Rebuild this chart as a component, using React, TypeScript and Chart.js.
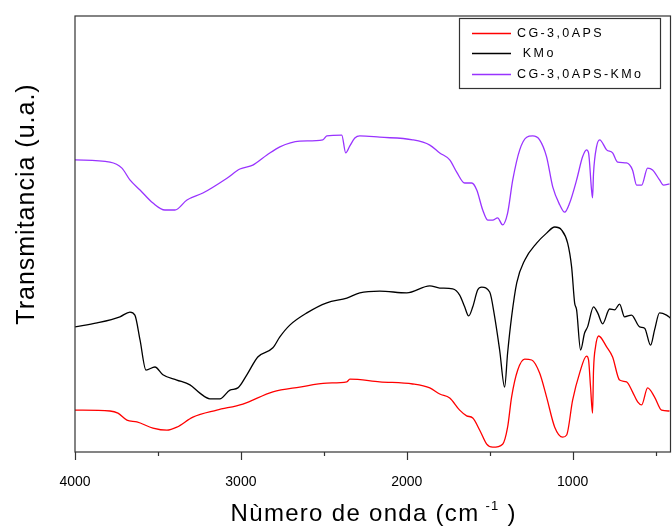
import React, { useEffect, useRef } from "react";
import { Chart, registerables } from "chart.js";

Chart.register(...registerables);

// ---- data ----
const seriesNames = ["CG-3,0APS", " KMo", "CG-3,0APS-KMo"];
const seriesColors = ["#ff0000", "#000000", "#9933ff"];

const xTickValues = [4000, 3500, 3000, 2500, 2000, 1500, 1000, 500];
const xTickLabels = ["4000", "", "3000", "", "2000", "", "1000", ""];

const xTitleMain = "Nùmero de onda (cm";
const xTitleSup = "-1";
const xTitleEnd = ")";
const yTitle = "Transmitancia (u.a.)";

const redWave = [4000, 3789, 3741, 3687, 3627, 3530, 3446, 3386, 3289, 3145, 2988, 2807, 2645, 2482, 2361, 2343, 2163, 1964, 1861, 1801, 1741, 1681, 1639, 1602, 1560, 1518, 1482, 1422, 1392, 1368, 1331, 1289, 1247, 1199, 1157, 1108, 1060, 1036, 1000, 958, 916, 904, 892, 880, 874, 862, 843, 795, 759, 717, 675, 639, 608, 584, 548, 506, 464, 416];
const redT = [9.6, 9.4, 8.9, 7.3, 6.9, 5.5, 5.0, 5.7, 8.0, 9.6, 11.0, 13.8, 14.9, 15.8, 16.1, 16.7, 16.1, 15.6, 14.7, 13.3, 12.4, 9.6, 8.3, 7.8, 5.0, 1.8, 1.1, 1.8, 5.7, 12.6, 18.8, 21.3, 21.1, 18.1, 12.6, 5.7, 3.4, 3.9, 11.9, 18.1, 22.0, 21.1, 14.9, 8.9, 18.8, 24.1, 26.6, 24.1, 21.8, 16.5, 16.1, 13.8, 11.5, 10.8, 14.7, 12.6, 9.6, 9.4];

const kmoWave = [4000, 3867, 3729, 3669, 3639, 3608, 3572, 3518, 3470, 3386, 3307, 3247, 3187, 3127, 3066, 3018, 2964, 2898, 2807, 2765, 2705, 2602, 2482, 2361, 2283, 2163, 2000, 1861, 1801, 1723, 1681, 1651, 1627, 1602, 1572, 1548, 1500, 1470, 1440, 1410, 1392, 1368, 1337, 1289, 1217, 1157, 1108, 1066, 1030, 1006, 988, 976, 952, 928, 910, 874, 849, 819, 777, 747, 717, 687, 645, 596, 566, 530, 506, 476, 434, 410];
const kmoT = [28.7, 29.6, 31.0, 32.1, 31.4, 25.7, 18.8, 19.5, 17.7, 16.5, 15.4, 13.5, 12.2, 12.2, 14.2, 14.7, 17.7, 21.8, 23.9, 26.4, 29.1, 31.9, 34.2, 35.3, 36.5, 36.9, 36.5, 38.1, 37.6, 37.4, 36.0, 33.3, 31.2, 33.3, 37.2, 37.8, 36.7, 31.0, 23.4, 14.9, 22.7, 31.0, 38.8, 44.0, 47.9, 50.2, 51.6, 50.9, 47.9, 42.4, 34.2, 32.6, 23.4, 27.3, 28.7, 33.3, 31.9, 29.4, 32.8, 32.6, 33.9, 31.0, 31.4, 28.7, 28.4, 24.5, 28.0, 31.9, 31.4, 30.7];

const mixWave = [4000, 3789, 3717, 3669, 3608, 3530, 3458, 3398, 3325, 3229, 3084, 3006, 2928, 2843, 2765, 2645, 2506, 2482, 2392, 2368, 2343, 2313, 2283, 2163, 1964, 1861, 1801, 1741, 1699, 1651, 1608, 1578, 1542, 1512, 1482, 1452, 1422, 1392, 1361, 1319, 1277, 1241, 1199, 1157, 1120, 1078, 1048, 1018, 976, 940, 916, 904, 886, 880, 874, 856, 837, 795, 759, 729, 675, 639, 614, 584, 548, 518, 476, 452, 416];
const mixT = [67.0, 66.5, 65.1, 62.4, 60.1, 57.1, 55.5, 55.5, 57.8, 59.4, 62.8, 64.9, 65.8, 68.1, 70.0, 71.3, 71.6, 72.5, 72.7, 68.6, 70.2, 72.0, 72.5, 72.2, 71.6, 70.4, 68.6, 67.0, 64.2, 61.7, 61.7, 60.1, 55.5, 53.2, 53.2, 53.7, 52.1, 54.8, 62.4, 69.3, 72.2, 72.5, 71.6, 67.7, 60.8, 56.7, 55.0, 57.1, 62.4, 67.7, 69.3, 68.6, 60.1, 58.3, 64.0, 70.0, 71.6, 69.3, 68.6, 66.5, 66.3, 64.7, 61.2, 61.2, 65.1, 64.7, 62.4, 61.2, 61.5];

const xMin = 410;
const xMax = 4000;
const yMin = 0;
const yMax = 100;

const FONT = "'Liberation Sans', Arial, sans-serif";

function toPoints(xs: number[], ys: number[]) {
  return xs.map((x, i) => ({ x, y: ys[i] }));
}

const decorPlugin = {
  id: "decor",
  afterDraw(chart: any) {
    const ctx = chart.ctx as CanvasRenderingContext2D;
    const a = chart.chartArea;
    const xs = chart.scales.x;
    ctx.save();
    // frame
    ctx.strokeStyle = "#333";
    ctx.lineWidth = 1.2;
    ctx.strokeRect(a.left, a.top, a.right - a.left, a.bottom - a.top);
    // ticks
    ctx.beginPath();
    xTickValues.forEach((v) => {
      const px = Math.round(xs.getPixelForValue(v)) + 0.5;
      const len = v % 1000 === 0 ? 8 : 4;
      ctx.moveTo(px, a.bottom);
      ctx.lineTo(px, a.bottom + len);
    });
    ctx.stroke();

    ctx.fillStyle = "#000";
    // y title
    ctx.save();
    (ctx as any).letterSpacing = "1px";
    ctx.translate(34, 204);
    ctx.rotate(-Math.PI / 2);
    ctx.font = `25px ${FONT}`;
    ctx.textAlign = "center";
    ctx.textBaseline = "alphabetic";
    ctx.fillText(yTitle, 0, 0);
    ctx.restore();

    // x title
    ctx.save();
    (ctx as any).letterSpacing = "1.3px";
    ctx.textBaseline = "alphabetic";
    ctx.textAlign = "left";
    ctx.font = `24px ${FONT}`;
    const wMain = ctx.measureText(xTitleMain).width;
    const wEnd = ctx.measureText(xTitleEnd).width;
    ctx.font = `13px ${FONT}`;
    const wSup = ctx.measureText(xTitleSup).width;
    const total = wMain + 6 + wSup + 8 + wEnd;
    const cx = (a.left + a.right) / 2 + 1;
    let x0 = cx - total / 2;
    ctx.font = `24px ${FONT}`;
    ctx.fillText(xTitleMain, x0, 521);
    x0 += wMain + 6;
    ctx.font = `13px ${FONT}`;
    ctx.fillText(xTitleSup, x0, 510);
    x0 += wSup + 8;
    ctx.font = `24px ${FONT}`;
    ctx.fillText(xTitleEnd, x0, 521);
    ctx.restore();

    // legend
    ctx.save();
    ctx.strokeStyle = "#333";
    ctx.lineWidth = 1.2;
    ctx.strokeRect(459.5, 18.5, 201, 70);
    const rows = [33, 53, 74];
    (ctx as any).letterSpacing = "2.4px";
    ctx.font = `12.5px ${FONT}`;
    ctx.textBaseline = "middle";
    ctx.textAlign = "left";
    seriesNames.forEach((name, i) => {
      ctx.strokeStyle = seriesColors[i];
      ctx.lineWidth = 1.3;
      ctx.beginPath();
      ctx.moveTo(472, rows[i] + 0.5);
      ctx.lineTo(511, rows[i] + 0.5);
      ctx.stroke();
      ctx.fillStyle = "#000";
      ctx.fillText(name, 517, rows[i] + 1);
    });
    ctx.restore();

    ctx.restore();
  },
};

export default function App() {
  const ref = useRef<HTMLCanvasElement | null>(null);

  useEffect(() => {
    if (!ref.current) return;
    const series = [
      toPoints(redWave, redT),
      toPoints(kmoWave, kmoT),
      toPoints(mixWave, mixT),
    ];
    const chart = new Chart(ref.current, {
      type: "line",
      data: {
        datasets: series.map((pts, i) => ({
          label: seriesNames[i],
          data: pts,
          borderColor: seriesColors[i],
          backgroundColor: seriesColors[i],
          borderWidth: 1.3,
          pointRadius: 0,
          fill: false,
          cubicInterpolationMode: "monotone" as const,
        })),
      },
      options: {
        animation: false,
        responsive: false,
        maintainAspectRatio: false,
        devicePixelRatio: 1,
        layout: { padding: { left: 75, top: 16, right: 1.5, bottom: 0 } },
        plugins: {
          legend: { display: false },
          tooltip: { enabled: false },
          title: { display: false },
        },
        scales: {
          x: {
            type: "linear",
            reverse: true,
            min: xMin,
            max: xMax,
            afterBuildTicks: (s: any) => {
              s.ticks = xTickValues.map((v) => ({ value: v }));
            },
            afterFit: (s: any) => {
              s.height = 75;
            },
            ticks: {
              autoSkip: false,
              maxRotation: 0,
              padding: 14,
              color: "#000",
              font: { family: FONT, size: 14 },
              callback: (v: any) => {
                const i = xTickValues.indexOf(Number(v));
                return i >= 0 ? xTickLabels[i] : "";
              },
            },
            grid: { display: false },
            border: { display: false },
          },
          y: {
            type: "linear",
            display: false,
            min: yMin,
            max: yMax,
          },
        },
      },
      plugins: [decorPlugin],
    });
    return () => chart.destroy();
  }, []);

  return (
    <div style={{ position: "fixed", left: 0, top: 0, width: 672, height: 527, background: "#fff" }}>
      <canvas ref={ref} width={672} height={527} style={{ display: "block" }} />
    </div>
  );
}
